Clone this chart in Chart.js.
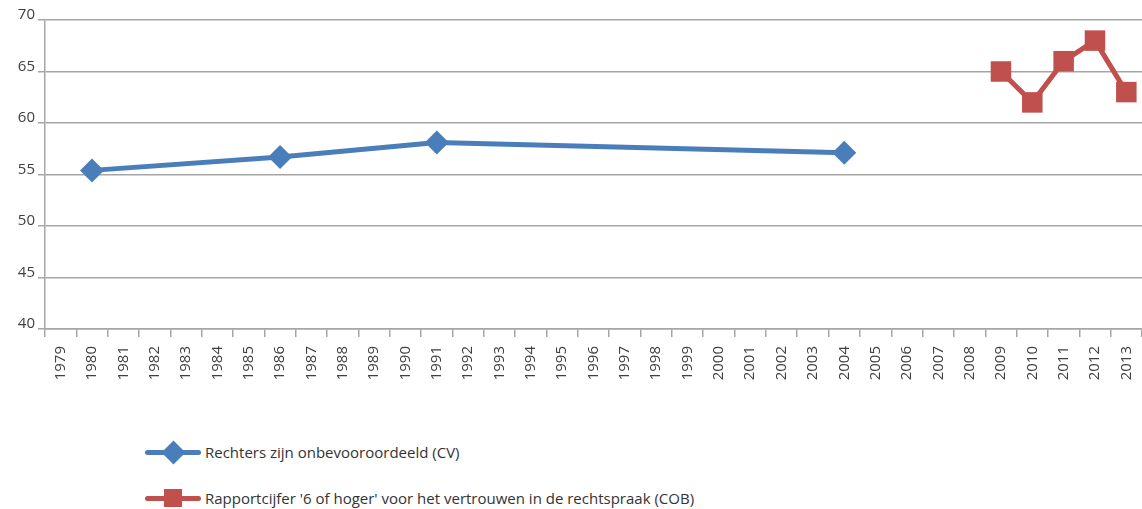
<!DOCTYPE html>
<html>
<head>
<meta charset="utf-8">
<script src="https://cdn.jsdelivr.net/npm/chart.js@4/dist/chart.umd.min.js"></script>
<style>
  html, body { margin: 0; padding: 0; background: #fff; }
  body { width: 1142px; height: 509px; position: relative; overflow: hidden; font-family: "Open Sans", "Noto Sans", sans-serif; }
  #wrap { position: absolute; left: 0; top: 0; width: 1142px; height: 400px; }
  #legend { position: absolute; left: 145px; top: 437px; color: #333; font-size: 15px; }
  .item { display: flex; align-items: center; height: 30px; margin-bottom: 16px; }
  .sw { position: relative; width: 56px; height: 5px; border-radius: 3px; margin-right: 4px; }
  .mk { position: absolute; left: 50%; top: 50%; }
</style>
</head>
<body>
<div id="wrap"><canvas id="myChart"></canvas></div>
<div id="legend"></div>
<script>
// jaren op de x-as
const years = [];
for (let y = 1979; y <= 2013; y++) years.push(String(y));

const cvYears = ['1980', '1986', '1991', '2004'];
const cvValues = [55.4, 56.7, 58.1, 57.1];
const cobYears = ['2009', '2010', '2011', '2012', '2013'];
const cobValues = [65, 62, 66, 68, 63];

const yTicks = [40, 45, 50, 55, 60, 65, 70];

const cvLabel = 'Rechters zijn onbevooroordeeld (CV)';
const cobLabel = "Rapportcijfer '6 of hoger' voor het vertrouwen in de rechtspraak (COB)";
const blue = '#4a7ebb';
const red = '#c0504d';

function toSeries(keys, vals) {
  return years.map(y => {
    const i = keys.indexOf(y);
    return i >= 0 ? vals[i] : null;
  });
}

const gridColor = '#a6a6a6';
const ctx = document.getElementById('myChart').getContext('2d');
new Chart(ctx, {
  type: 'line',
  data: {
    labels: years,
    datasets: [
      { label: cvLabel, data: toSeries(cvYears, cvValues), borderColor: blue, backgroundColor: blue,
        borderWidth: 5, pointStyle: 'rectRot', pointRadius: 12, pointBorderWidth: 0, spanGaps: true, tension: 0, clip: false },
      { label: cobLabel, data: toSeries(cobYears, cobValues), borderColor: red, backgroundColor: red,
        borderWidth: 5, pointStyle: 'rect', pointRadius: 14.5, pointBorderWidth: 0, spanGaps: true, tension: 0, clip: false }
    ]
  },
  options: {
    responsive: true,
    maintainAspectRatio: false,
    animation: false,
    layout: { autoPadding: false, padding: { top: 20, right: 0, left: 0, bottom: 0 } },
    plugins: { legend: { display: false }, tooltip: { enabled: false } },
    scales: {
      x: {
        offset: true,
        grid: { offset: true, drawOnChartArea: false, drawTicks: true, tickLength: 8, color: gridColor, lineWidth: 1.5 },
        border: { color: gridColor, width: 1.5 },
        ticks: { maxRotation: 90, minRotation: 90, autoSkip: false, color: '#404040', padding: 9,
          font: { family: '"Open Sans", "Noto Sans", sans-serif', size: 15 } },
        afterFit: s => { s.height = 71; s.paddingLeft = 0; s.paddingRight = 0; }
      },
      y: {
        min: 40, max: 70,
        afterBuildTicks: s => { s.ticks = yTicks.map(v => ({ value: v })); },
        grid: { color: gridColor, lineWidth: 1.5, tickLength: 7 },
        border: { color: gridColor, width: 1.5 },
        ticks: { color: '#404040', padding: 3, labelOffset: -5,
          font: { family: '"Open Sans", "Noto Sans", sans-serif', size: 15 } },
        afterFit: s => { s.width = 45; s.paddingTop = 0; s.paddingBottom = 0; }
      }
    }
  }
});

// legenda met lijn en marker
const legend = document.getElementById('legend');
[[cvLabel, blue, 'diamond'], [cobLabel, red, 'square']].forEach(([text, color, shape]) => {
  const div = document.createElement('div');
  div.className = 'item';
  const mk = shape === 'diamond'
    ? `<span class="mk" style="width:17px;height:17px;margin:-8.5px 0 0 -8.5px;background:${color};transform:rotate(45deg)"></span>`
    : `<span class="mk" style="width:18px;height:18px;margin:-9px 0 0 -9px;background:${color}"></span>`;
  div.innerHTML = `<span class="sw" style="background:${color}">${mk}</span><span>${text}</span>`;
  legend.appendChild(div);
});
</script>
</body>
</html>
